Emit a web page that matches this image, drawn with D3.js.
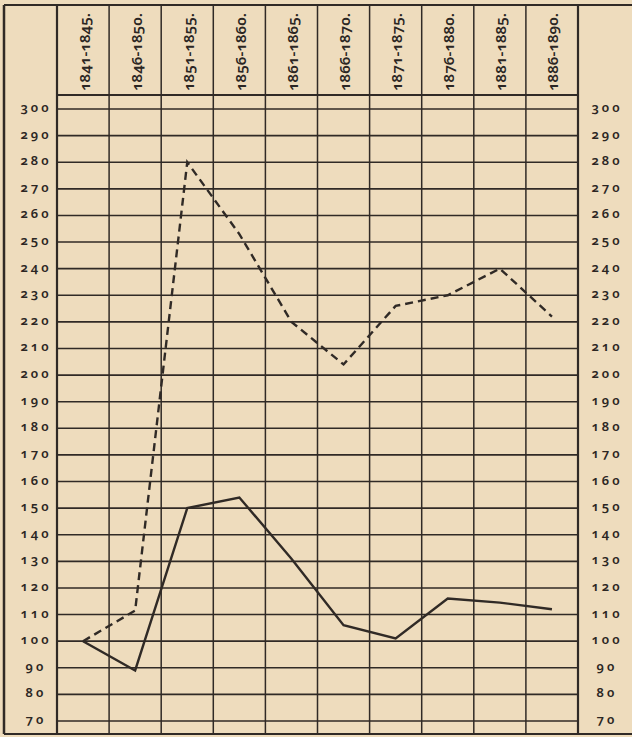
<!DOCTYPE html>
<html>
<head>
<meta charset="utf-8">
<script src="https://cdn.jsdelivr.net/npm/d3@7"></script>
<style>
  html, body { margin: 0; padding: 0; background: #eedcbd; }
  svg { display: block; }
  text { font-family: "Noto Sans", "Open Sans", sans-serif; fill: #2b2623; font-weight: 600;
         font-variant-numeric: oldstyle-nums; font-feature-settings: "onum" 1; }
</style>
</head>
<body>
<svg id="chart" width="632" height="737"></svg>
<script>
// données
const periodes = ["1841-1845.", "1846-1850.", "1851-1855.", "1856-1860.", "1861-1865.",
                  "1866-1870.", "1871-1875.", "1876-1880.", "1881-1885.", "1886-1890."]
const serieTirets = [100, 111.5, 280, 253, 220, 204, 226, 230, 240, 222]
const serieTrait = [100, 89, 150, 154, 131, 106, 101, 116, 114.5, 112]
const graduations = [70, 80, 90, 100, 110, 120, 130, 140, 150, 160, 170, 180, 190,
                     200, 210, 220, 230, 240, 250, 260, 270, 280, 290, 300]

const svg = d3.select("#chart")
const ink = "#302a26"

const gauche = 57, droite = 578, haut = 5, basEntete = 95, bas = 734

const x = d3.scaleBand()
    .domain(periodes)
    .range([gauche, droite])

const y = d3.scaleLinear()
    .domain([70, 300])
    .range([721, 109])

// Grille horizontale
const grid = svg.append("g")
grid.selectAll("line.h")
    .data(graduations)
    .enter()
    .append("line")
    .attr("x1", gauche)
    .attr("x2", droite)
    .attr("y1", d => y(d))
    .attr("y2", d => y(d))
    .attr("stroke", ink)
    .attr("stroke-width", 1.6)

// Lignes verticales (colonnes)
const colonnes = periodes.map(p => x(p)).concat([droite])
grid.selectAll("line.v")
    .data(colonnes)
    .enter()
    .append("line")
    .attr("x1", d => d)
    .attr("x2", d => d)
    .attr("y1", haut)
    .attr("y2", bas)
    .attr("stroke", ink)
    .attr("stroke-width", (d, i) => (i == 0 || i == colonnes.length - 1) ? 2.2 : 1.5)

// Cadre
svg.append("line").attr("x1", 4).attr("x2", 4).attr("y1", haut).attr("y2", bas)
    .attr("stroke", ink).attr("stroke-width", 2.5)
svg.append("line").attr("x1", 4).attr("x2", 632).attr("y1", haut).attr("y2", haut)
    .attr("stroke", ink).attr("stroke-width", 1.8)
svg.append("line").attr("x1", 4).attr("x2", 632).attr("y1", bas).attr("y2", bas)
    .attr("stroke", ink).attr("stroke-width", 1.8)
svg.append("line").attr("x1", gauche).attr("x2", droite).attr("y1", basEntete).attr("y2", basEntete)
    .attr("stroke", ink).attr("stroke-width", 2.2)

// En-têtes des périodes
svg.append("g")
    .selectAll("text")
    .data(periodes)
    .enter()
    .append("text")
    .attr("transform", d => `translate(${x(d) + x.bandwidth() / 2 + 1}, 91) rotate(-90)`)
    .attr("dominant-baseline", "central")
    .attr("font-size", 14)
    .attr("textLength", 78)
    .attr("lengthAdjust", "spacingAndGlyphs")
    .text(d => d)

// Graduations gauche et droite
const labels = svg.append("g")
labels.selectAll("text.g")
    .data(graduations)
    .enter()
    .append("text")
    .attr("x", 36)
    .attr("y", d => y(d) - 2)
    .attr("text-anchor", "middle")
    .attr("dominant-baseline", "central")
    .attr("font-size", 13)
    .attr("letter-spacing", 3)
    .text(d => d)
labels.selectAll("text.d")
    .data(graduations)
    .enter()
    .append("text")
    .attr("x", 607)
    .attr("y", d => y(d) - 2)
    .attr("text-anchor", "middle")
    .attr("dominant-baseline", "central")
    .attr("font-size", 13)
    .attr("letter-spacing", 3)
    .text(d => d)

// Courbes
const ligne = d3.line()
    .x((d, i) => x(periodes[i]) + x.bandwidth() / 2)
    .y(d => y(d))

svg.append("path")
    .attr("d", ligne(serieTirets))
    .attr("fill", "none")
    .attr("stroke", ink)
    .attr("stroke-width", 2.4)
    .attr("stroke-dasharray", "8,5")

svg.append("path")
    .attr("d", ligne(serieTrait))
    .attr("fill", "none")
    .attr("stroke", ink)
    .attr("stroke-width", 2.4)
</script>
</body>
</html>
